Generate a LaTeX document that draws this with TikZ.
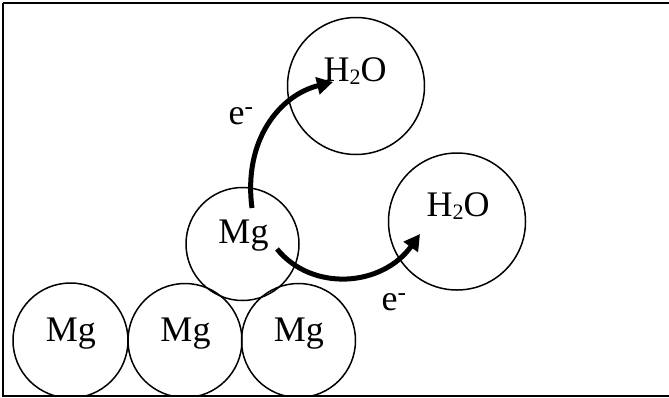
\documentclass[tikz,border=0pt]{standalone}
\usepackage{fontspec}
\setmainfont{Liberation Serif}
\usetikzlibrary{arrows.meta}
\newcommand{\subtwo}{\raisebox{-3pt}{\fontsize{22}{22}\selectfont 2}}
\begin{document}
\begin{tikzpicture}[x=1pt,y=-1pt,
  atom/.style={draw,line width=1.5pt,circle,inner sep=0pt},
  lbl/.style={font=\fontsize{36}{40}\selectfont,anchor=base,inner sep=0pt},
  earrow/.style={line width=5pt,-{Triangle[length=16pt,width=17pt]}}]
\useasboundingbox (0,0) rectangle (669,397);
\begin{scope}
\clip (3,3) rectangle (669,395);
\node[atom,minimum size=115pt] (mg1) at (70.5,340.5) {};
\node[atom,minimum size=114pt] (mg2) at (185,340.5) {};
\node[atom,minimum size=114pt] (mg3) at (298.5,340.5) {};
\end{scope}
\node[atom,minimum size=113pt] (mg4) at (242.5,244) {};
\node[atom,minimum size=137pt] (w1) at (356,86) {};
\node[atom,minimum size=137pt] (w2) at (457,221.5) {};
\draw[line width=2pt] (3,3) -- (670,3);
\draw[line width=2pt] (3,3) -- (3,395.5) -- (670,395.5);
\node[lbl] (t1) at (70.8,341.7) {Mg};
\node[lbl] (t2) at (185.5,341.7) {Mg};
\node[lbl] (t3) at (298.8,341.7) {Mg};
\node[lbl] (t4) at (243.5,243) {Mg};
\node[lbl] (t5) at (355,81.7) {H\subtwo O};
\node[lbl] (t6) at (458,216.7) {H\subtwo O};
\node[lbl] (e1) at (241,124) {e\textsuperscript{-}};
\node[lbl] (e2) at (394,310) {e\textsuperscript{-}};
\coordinate (s1) at (252,208);
\coordinate (f1) at (333,82);
\coordinate (s2) at (277,249);
\coordinate (f2) at (420,234);
\draw[earrow] (s1) .. controls (243,140) and (280,95) .. (f1);
\draw[earrow] (s2) .. controls (312,292) and (382,287) .. (f2);
\end{tikzpicture}
\end{document}
